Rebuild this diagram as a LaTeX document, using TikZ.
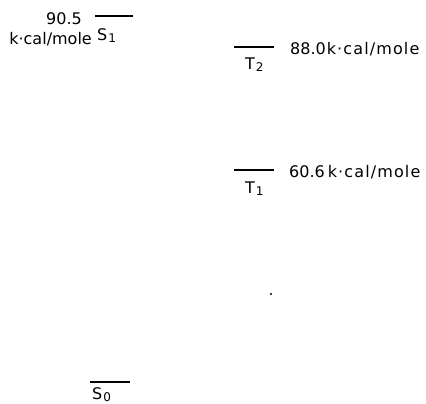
\documentclass[tikz,border=0pt]{standalone}
\usepackage{fontspec}
\setmainfont{DejaVu Sans}
\newfontfamily\widefont[LetterSpace=7]{DejaVu Sans}
\usetikzlibrary{positioning}
\newcommand{\lvlname}[2]{#1\kern1pt\raisebox{-2pt}{\fontsize{12}{13}\selectfont #2}}
\tikzset{
  enline/.style = {line width=2.5pt},
  elbl/.style   = {inner sep=0pt, font=\fontsize{16}{18}\selectfont},
  tag/.style    = {inner sep=0pt, font=\fontsize{16}{18}\selectfont},
}

\begin{document}
\begin{tikzpicture}[x=1pt, y=-1pt]
  \useasboundingbox (0,0) rectangle (426,404);
  % singlet levels
  \coordinate (s1l) at (95,16);
  \coordinate (s1r) at (133,16);
  \coordinate (s0l) at (90,382);
  \coordinate (s0r) at (130,382);
  % triplet levels
  \coordinate (t2l) at (234,47);
  \coordinate (t2r) at (274,47);
  \coordinate (t1l) at (234,170);
  \coordinate (t1r) at (274,170);
  \coordinate (speck) at (271,294);

  \draw[enline] (s1l) -- (s1r);
  \draw[enline] (s0l) -- (s0r);
  \draw[enline] (t2l) -- (t2r);
  \draw[enline] (t1l) -- (t1r);
  \fill (speck) circle (1.2pt);

  \node[tag, below right=12pt and 2pt of s1l] (s1) {\lvlname{S}{1}};
  \node[tag, below right=5pt and 2pt of s0l] (s0) {\lvlname{S}{0}};
  \node[tag, below right=11pt and 11pt of t2l] (t2) {\lvlname{T}{2}};
  \node[tag, below right=12pt and 11pt of t1l] (t1) {\lvlname{T}{1}};

  \node[elbl, anchor=base east] (e1) at ([xshift=-13pt, yshift=-9pt]s1l) {90.5};
  \node[elbl, anchor=base east] (u1) at ([xshift=-3pt, yshift=-29pt]s1l) {k·cal/mole};
  \node[elbl, anchor=base west] (e2) at ([xshift=16pt, yshift=-8pt]t2r) {88.0\kern1pt{\widefont k·cal/mole}};
  \node[elbl, anchor=base west] (e3) at ([xshift=15pt, yshift=-7pt]t1r) {60.6\kern3pt{\widefont k·cal/mole}};
\end{tikzpicture}
\end{document}
